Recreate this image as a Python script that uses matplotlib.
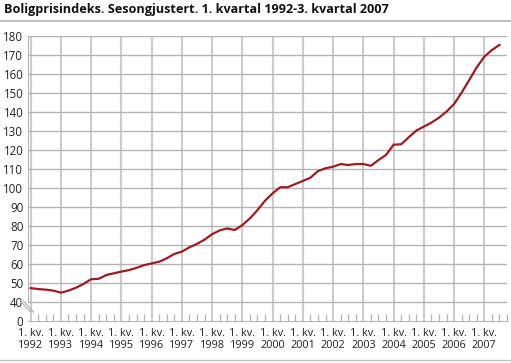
import numpy as np
import matplotlib.pyplot as plt
from matplotlib.lines import Line2D

# Boligprisindeks, sesongjustert, kvartalsvis 1992K1-2007K3
values = [
    47.3, 46.8, 46.5, 46.0,
    44.9, 46.0, 47.5, 49.5,
    52.0, 52.2, 54.2, 55.1,
    56.0, 56.8, 58.0, 59.4,
    60.3, 61.2, 63.0, 65.3,
    66.5, 68.8, 70.6, 72.8,
    75.7, 77.7, 78.7, 77.9,
    80.5, 84.0, 88.4, 93.3,
    97.2, 100.4, 100.4, 102.1,
    103.7, 105.4, 108.9, 110.4,
    111.2, 112.6, 112.1, 112.6,
    112.6, 111.7, 114.7, 117.4,
    122.8, 123.0, 126.7, 130.2,
    132.3, 134.4, 137.0, 140.2,
    144.2, 150.2, 156.8, 163.5,
    169.1, 172.6, 175.3,
]
start_year = 1992
years = list(range(1992, 2008))
year_labels = [f"1. kv.\n{y}" for y in years]
y_ticks = list(range(40, 181, 10))
title = "Boligprisindeks. Sesongjustert. 1. kvartal 1992-3. kvartal 2007"

x = start_year + np.arange(len(values)) / 4

plt.rcParams['font.family'] = ['Open Sans', 'DejaVu Sans']
grid_col = "#b4b4b4"
vgrid_col = "#cccccc"
text_col = "#222222"

fig, ax = plt.subplots(figsize=(5.11, 3.63), dpi=100)
fig.subplots_adjust(left=27.5 / 511, right=507 / 511, bottom=1 - 321 / 363, top=1 - 36 / 363)

x_lo, x_hi = 1991.895, 2007.63
ax.set_xlim(x_lo, x_hi)
ax.set_ylim(30, 180)
ax.set_yticks([30] + y_ticks)
ax.set_yticklabels(["0"] + [str(v) for v in y_ticks])
ax.set_xticks(years)
ax.set_xticklabels(year_labels, linespacing=1.1)
ax.set_xticks(start_year + np.arange(0, 16 * 4) / 4, minor=True)

ax.grid(axis="y", color=grid_col, lw=1.0)
ax.grid(axis="x", which="major", color=vgrid_col, lw=1.5)
ax.set_axisbelow(True)
# no gridline for the "0" break tick
ax.get_ygridlines()[0].set_visible(False)

ax.plot(x, values, color="#9e1b22", lw=1.6, solid_joinstyle="round", zorder=3)

ax.tick_params(axis="y", length=0, pad=3, labelsize=8.3, colors=text_col)
ax.tick_params(axis="x", which="major", length=0, pad=5, labelsize=7.8, colors=text_col)
ax.tick_params(axis="x", which="minor", direction="in", length=5, width=0.9, color=grid_col)

for side in ["top", "right"]:
    ax.spines[side].set_visible(False)
ax.spines["left"].set_color(grid_col)
ax.spines["bottom"].set_color(grid_col)
ax.spines["left"].set_bounds(40, 180)

# axis break marks
p0 = fig.transFigure.inverted().transform(ax.transData.transform((x_lo, 40)))
for dx in (0, 3):
    x0 = p0[0] - (7 - dx) / 511
    y0 = p0[1] + 1 / 363
    fig.add_artist(Line2D([x0, x0 + 10 / 511], [y0, y0 - 11 / 363],
                          color=grid_col, lw=0.9))

fig.text(4 / 511, 1 - 10 / 363, title, fontsize=9.1, fontweight="bold",
         ha="left", va="center", color="#111111")
fig.add_artist(Line2D([0, 1], [1 - 20.5 / 363] * 2, color="#c0c0c0", lw=1.5))
fig.add_artist(Line2D([0, 1], [1 - 360 / 363] * 2, color="#c0c0c0", lw=1.0))

fig.savefig("out.png", dpi=100)
